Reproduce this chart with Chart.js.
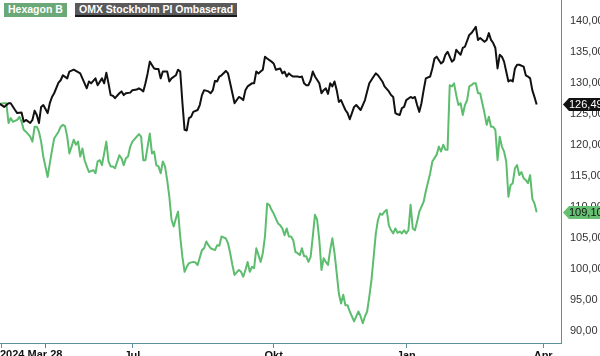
<!DOCTYPE html>
<html><head><meta charset="utf-8">
<script src="https://cdn.jsdelivr.net/npm/chart.js@4.4.1/dist/chart.umd.min.js"></script>
<style>
html,body{margin:0;padding:0;background:#fff;}
#wrap{position:relative;width:600px;height:356px;overflow:hidden;}
canvas{position:absolute;left:0;top:0;}
.lg{position:absolute;top:3px;height:14px;line-height:14px;font:bold 10.5px "Liberation Sans",Arial,sans-serif;color:#fff;padding:0 4px;box-sizing:border-box;white-space:nowrap;}
</style></head><body>
<div id="wrap"><canvas id="c" width="600" height="356"></canvas>
<div class="lg" id="lg1" style="left:4px;width:63px;background:#6aa877;"></div>
<div class="lg" id="lg2" style="left:75px;width:162px;background:#5a5a5a;border-bottom:2px solid #1a1a1a;"></div>
</div>
<script>
const seriesNames = ['Hexagon B', 'OMX Stockholm PI Ombaserad'];
const tickDays = [0, 20, 60, 125, 186, 249];
const tickLabels = ['2024 Mar 28', '', 'Jul', 'Okt', 'Jan', 'Apr'];
const markerDay = 20;
const yTicks = [90, 95, 100, 105, 110, 115, 120, 125, 130, 135, 140];

const hexDays = [-1,1,2,3,4,5,7,8,9,10,11,13,14,15,16,17,18,19,21,22,23,24,26,27,28,29,30,31,32,33,34,35,36,37,38,39,40,42,43,44,45,46,47,48,49,50,51,52,54,55,56,57,58,59,60,62,63,64,65,66,67,68,69,70,71,72,73,74,75,76,77,78,79,80,81,82,83,84,85,86,88,89,90,92,93,94,95,96,98,99,100,101,103,104,105,106,107,109,110,111,112,113,114,115,116,117,118,119,120,121,122,123,124,125,127,128,129,130,131,132,133,134,135,136,137,138,139,140,141,142,143,144,145,146,147,148,149,150,151,152,153,154,155,156,157,158,159,160,161,162,163,164,165,166,167,168,169,170,171,172,173,174,175,176,177,178,179,180,181,182,183,184,185,186,187,188,189,190,191,192,194,195,197,198,200,201,202,203,204,205,206,207,208,209,210,211,212,213,214,215,216,217,218,219,220,221,222,223,224,225,226,227,228,229,230,231,232,233,234,235,236,237,238,239,240,241,242,243,244,245,246];
const hexValues = [126.6,126.7,126.7,123.5,124.3,123.7,124.0,124.5,123.7,122.4,122.1,121.3,120.5,122.9,122.9,122.1,120.5,118.1,114.8,117.0,119.1,121.0,122.1,122.9,123.2,123.0,121.3,118.6,119.7,120.8,120.0,120.5,118.1,119.4,117.5,116.5,115.6,115.9,115.4,117.3,117.5,116.7,118.6,120.5,117.3,116.5,116.5,116.2,118.3,117.8,116.7,117.8,118.1,119.7,120.5,121.3,121.7,121.3,117.5,117.5,119.7,121.8,118.6,118.9,116.7,116.5,115.4,117.3,116.5,114.3,111.6,107.9,106.8,108.1,109.2,105.2,101.9,99.5,100.3,100.9,101.1,101.0,100.6,103.0,103.3,104.4,103.8,103.3,103.0,103.8,103.7,105.2,104.9,104.1,102.5,100.6,99.0,99.8,99.5,98.7,99.8,101.1,99.5,100.3,100.1,103.3,102.2,101.1,102.5,105.2,110.5,110.3,109.5,108.9,107.3,107.0,106.5,105.4,106.5,105.2,105.2,104.6,102.7,102.5,102.2,103.3,102.0,102.0,101.1,101.9,105.2,108.7,107.9,104.6,99.8,101.7,101.1,100.6,103.0,104.9,102.5,99.3,96.0,94.4,95.8,94.1,94.1,93.1,92.3,91.5,92.3,93.1,92.3,91.2,92.3,93.1,95.5,98.2,101.9,105.7,107.9,108.9,108.7,109.2,109.5,107.0,106.2,105.7,106.5,105.8,106.0,105.7,106.2,105.7,106.2,110.3,106.5,106.2,107.6,109.2,110.8,112.5,115.4,117.3,118.4,119.7,118.9,120.0,119.2,119.2,129.6,129.4,129.9,128.0,126.4,126.7,124.8,126.4,127.2,129.4,129.6,129.9,129.9,128.3,128.3,126.7,125.1,123.2,124.5,122.9,122.9,122.4,117.5,121.3,119.7,118.9,117.3,111.6,113.5,113.8,116.2,116.7,115.1,115.6,114.6,114.3,113.8,115.1,111.3,110.5,109.10];

const omxDays = [-1,1,3,4,6,7,9,10,11,13,14,15,16,17,18,19,21,22,23,24,26,27,28,30,31,33,34,36,37,39,40,41,43,44,46,47,48,49,50,51,52,54,55,56,57,59,60,62,63,64,65,66,67,68,70,71,72,73,74,76,77,78,80,81,82,83,84,85,86,87,88,90,91,92,93,95,96,97,98,99,100,101,103,104,105,106,107,109,110,111,112,113,115,116,117,118,119,120,121,122,124,125,126,128,129,130,131,132,133,134,136,137,138,139,140,141,142,143,144,146,147,148,149,150,151,152,153,154,155,156,157,158,159,160,161,162,163,165,166,167,168,169,171,172,173,175,176,178,179,180,181,182,183,184,185,186,188,189,190,191,192,193,194,195,197,198,199,200,202,203,204,205,207,208,209,211,212,213,215,216,217,218,219,220,222,223,224,225,226,227,228,229,230,231,232,233,234,235,236,237,238,240,241,242,243,244,245,246];
const omxValues = [126.6,126.1,126.7,126.7,125.6,125.1,125.2,123.7,124.0,123.5,124.0,125.5,124.8,123.5,126.1,126.4,125.1,126.7,127.7,128.3,130.0,130.4,131.2,130.7,131.8,132.1,131.9,131.5,130.7,129.1,130.2,129.9,130.7,129.6,130.7,129.9,131.6,129.9,128.0,127.9,127.5,128.3,128.6,128.0,128.3,128.4,128.8,128.9,129.1,128.9,128.6,129.9,131.5,133.4,132.3,132.2,132.2,130.7,131.8,131.8,130.2,130.7,131.2,132.1,131.8,126.8,122.4,122.3,124.3,124.5,125.3,125.6,126.4,128.0,128.8,128.6,128.3,128.8,130.3,130.2,131.0,131.2,131.9,131.5,129.9,128.3,126.7,127.7,127.5,127.2,128.8,129.4,129.9,129.9,131.8,131.5,131.8,132.1,134.2,133.9,133.4,133.1,132.1,132.3,131.5,131.8,131.0,131.5,131.2,131.0,131.0,130.9,131.0,129.9,129.6,129.6,130.4,131.8,131.0,129.9,128.3,128.8,129.1,128.2,129.9,129.4,130.2,128.8,126.9,127.2,126.4,125.6,125.1,124.1,125.1,126.1,126.4,125.6,126.4,127.2,128.6,129.9,131.0,131.5,131.2,130.2,129.4,128.6,128.0,127.7,125.1,124.9,124.8,125.9,126.1,127.2,127.7,127.5,127.7,126.4,125.3,126.7,128.8,130.7,131.0,132.3,133.9,134.2,133.1,133.4,134.5,135.0,133.4,133.7,135.3,134.5,135.6,135.8,137.7,138.0,138.5,139.0,136.9,137.2,136.6,136.9,138.0,136.9,136.4,135.6,132.3,134.5,134.2,133.4,131.8,130.2,130.4,130.2,132.3,132.9,132.9,132.6,131.2,131.0,130.7,128.8,127.7,126.49];

document.getElementById('lg1').textContent = seriesNames[0];
document.getElementById('lg2').textContent = seriesNames[1];

const FONT = "'Liberation Sans', Arial, sans-serif";
const AXIS = '#5d8f9c';
const GREEN = '#5dbd6e';
const BLACK = '#111111';
const toPts = (d, v) => d.map((x, i) => ({x: x, y: v[i]}));
const fmt = v => v.toFixed(2).replace('.', ',');

const tagPlugin = {
  id: 'tags',
  afterDraw(chart) {
    const ctx = chart.ctx, xs = chart.scales.x, ys = chart.scales.y;
    ctx.save();
    ctx.font = 'bold 11px ' + FONT;
    ctx.fillStyle = '#111';
    ctx.textAlign = 'left';
    ctx.textBaseline = 'top';
    ctx.fillText(tickLabels[0], xs.getPixelForValue(tickDays[0]) - 2, xs.top + 6);
    chart.data.datasets.forEach(ds => {
      const last = ds.data[ds.data.length - 1];
      const y = Math.round(ys.getPixelForValue(last.y)) + 0.5;
      const x0 = chart.chartArea.right + 2;
      ctx.fillStyle = ds.tagColor;
      ctx.beginPath();
      ctx.moveTo(x0, y);
      ctx.lineTo(x0 + 6, y - 6.5);
      ctx.lineTo(600, y - 6.5);
      ctx.lineTo(600, y + 6.5);
      ctx.lineTo(x0 + 6, y + 6.5);
      ctx.closePath();
      ctx.fill();
      ctx.fillStyle = ds.tagText;
      ctx.font = '11px ' + FONT;
      ctx.textBaseline = 'middle';
      ctx.fillText(fmt(last.y), x0 + 6, y + 0.5);
    });
    ctx.restore();
  }
};

new Chart(document.getElementById('c'), {
  type: 'line',
  data: {
    datasets: [
      {label: seriesNames[1], data: toPts(omxDays, omxValues), borderColor: BLACK, borderWidth: 2, pointRadius: 0, tension: 0, borderJoinStyle: 'round', tagColor: '#111', tagText: '#fff'},
      {label: seriesNames[0], data: toPts(hexDays, hexValues), borderColor: GREEN, borderWidth: 2, pointRadius: 0, tension: 0, borderJoinStyle: 'round', tagColor: '#66c073', tagText: '#111'}
    ]
  },
  options: {
    responsive: false,
    animation: false,
    layout: {padding: 0},
    plugins: {legend: {display: false}, tooltip: {enabled: false}},
    scales: {
      x: {
        type: 'linear',
        min: -0.92,
        max: 257.2,
        afterBuildTicks: s => { s.ticks = tickDays.map(v => ({value: v})); },
        afterFit: s => { s.height = 13; s.paddingLeft = 0; s.paddingRight = 0; },
        ticks: {
          autoSkip: false, maxRotation: 0, padding: 1,
          color: '#111', font: {family: FONT, size: 11, weight: 'bold'},
          callback: v => { const i = tickDays.indexOf(v); return i > 0 ? tickLabels[i] : ''; }
        },
        grid: {
          drawOnChartArea: false, drawTicks: true, tickLength: 5,
          color: c => (c.tick && c.tick.value === markerDay) ? '#e0455a' : AXIS
        },
        border: {display: true, color: AXIS, width: 1}
      },
      y: {
        type: 'linear',
        position: 'right',
        min: 88.02,
        max: 143.34,
        afterBuildTicks: s => { s.ticks = yTicks.map(v => ({value: v})); },
        afterFit: s => { s.width = 39; s.paddingTop = 0; s.paddingBottom = 0; },
        ticks: {padding: 9, color: '#333', font: {family: FONT, size: 11}, callback: v => fmt(v)},
        grid: {display: false, drawTicks: false},
        border: {display: true, color: AXIS, width: 1}
      }
    }
  },
  plugins: [tagPlugin]
});
</script>
</body></html>
